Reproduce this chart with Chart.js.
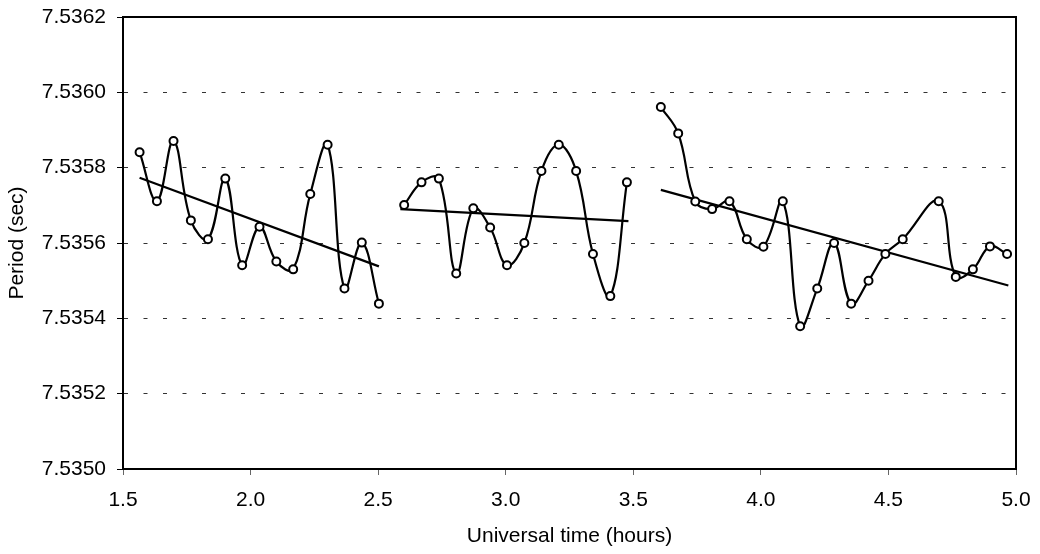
<!DOCTYPE html>
<html>
<head>
<meta charset="utf-8">
<script src="https://cdn.jsdelivr.net/npm/chart.js@4/dist/chart.umd.min.js"></script>
<style>
    html, body { margin: 0; padding: 0; background: #fff; }
    #contenedor { width: 1040px; height: 554px; }
</style>
</head>
<body>
<div id="contenedor"><canvas id="GP1"></canvas></div>
<script>
//
// DATOS (hora UT / periodo en segundos)
//
var horaSeg1 = [1.565, 1.633, 1.698, 1.766, 1.833, 1.901, 1.967, 2.035, 2.101, 2.167, 2.234, 2.302, 2.368, 2.436, 2.503];
var periodoSeg1 = [7.535841, 7.535711, 7.535871, 7.535660, 7.535610, 7.535771, 7.535541, 7.535643, 7.535551, 7.535530, 7.535730, 7.535861, 7.535479, 7.535601, 7.535439];

var horaSeg2 = [2.602, 2.670, 2.738, 2.806, 2.873, 2.939, 3.005, 3.073, 3.140, 3.208, 3.276, 3.342, 3.410, 3.475];
var periodoSeg2 = [7.535701, 7.535761, 7.535771, 7.535519, 7.535692, 7.535641, 7.535541, 7.535600, 7.535791, 7.535861, 7.535791, 7.535571, 7.535459, 7.535761];

var horaSeg3 = [3.608, 3.676, 3.743, 3.809, 3.877, 3.945, 4.010, 4.086, 4.154, 4.221, 4.287, 4.354, 4.422, 4.488, 4.556, 4.697, 4.764, 4.831, 4.898, 4.965];
var periodoSeg3 = [7.535961, 7.535891, 7.535710, 7.535690, 7.535711, 7.535610, 7.535590, 7.535711, 7.535379, 7.535479, 7.535600, 7.535439, 7.535500, 7.535571, 7.535610, 7.535711, 7.535510, 7.535530, 7.535591, 7.535571];

// lineas de tendencia (extremos)
var tendHora1 = [1.565, 2.503];
var tendPeriodo1 = [7.535773, 7.535538];
var tendHora2 = [2.587, 3.481];
var tendPeriodo2 = [7.535690, 7.535658];
var tendHora3 = [3.608, 4.970];
var tendPeriodo3 = [7.535741, 7.535487];

var ticksX = [1.5, 2.0, 2.5, 3.0, 3.5, 4.0, 4.5, 5.0];
var ticksY = [7.5350, 7.5352, 7.5354, 7.5356, 7.5358, 7.5360, 7.5362];
var lineasGuiaY = [7.5352, 7.5354, 7.5356, 7.5358, 7.5360];

FNArmarPuntos = function (horas, valores) {
    var puntos = [];
    for (var i = 0; i < horas.length; i++) {
        puntos.push({ x: horas[i], y: valores[i] });
    }
    return puntos;
}

FNSerieCurva = function (horas, valores) {
    return {
        data: FNArmarPuntos(horas, valores),
        borderColor: "#000",
        borderWidth: 2.2,
        tension: 0.4,
        pointRadius: 4,
        pointBorderWidth: 2,
        pointBackgroundColor: "#fff",
        pointBorderColor: "#000",
        fill: false
    };
}

FNSerieTendencia = function (horas, valores) {
    return {
        data: FNArmarPuntos(horas, valores),
        borderColor: "#000",
        borderWidth: 2.2,
        tension: 0,
        pointRadius: 0,
        fill: false
    };
}

// sin relleno extra por etiquetas en los extremos
FNSinPadding = function (scale) {
    scale.paddingTop = 0;
    scale.paddingBottom = 0;
    scale.paddingLeft = 0;
    scale.paddingRight = 0;
}

// marco superior y derecho del area de grafico
var marcoGrafico = {
    id: 'marcoGrafico',
    beforeDatasetsDraw: function (chart) {
        var a = chart.chartArea;
        var ctx = chart.ctx;
        ctx.save();
        ctx.strokeStyle = "#000";
        ctx.lineWidth = 2;
        ctx.beginPath();
        ctx.moveTo(a.left, a.top);
        ctx.lineTo(a.right, a.top);
        ctx.lineTo(a.right, a.bottom);
        ctx.stroke();
        ctx.restore();
    }
};

FNGraficoPeriodo = function () {
    Chart.defaults.font.family = "'Liberation Sans', Arial, sans-serif";
    Chart.defaults.color = "#000";

    new Chart(document.getElementById("GP1"), {
        type: 'line',
        data: {
            datasets: [
                FNSerieCurva(horaSeg1, periodoSeg1),
                FNSerieCurva(horaSeg2, periodoSeg2),
                FNSerieCurva(horaSeg3, periodoSeg3),
                FNSerieTendencia(tendHora1, tendPeriodo1),
                FNSerieTendencia(tendHora2, tendPeriodo2),
                FNSerieTendencia(tendHora3, tendPeriodo3)
            ]
        },
        plugins: [marcoGrafico],
        options: {
            responsive: true,
            maintainAspectRatio: false,
            animation: false,
            layout: { padding: { left: 5, top: 17, right: 24, bottom: 5 } },
            plugins: {
                legend: { display: false },
                tooltip: { enabled: false }
            },
            scales: {
                x: {
                    type: 'linear',
                    min: 1.5,
                    max: 5.0,
                    afterBuildTicks: function (scale) {
                        scale.ticks = ticksX.map(function (v) { return { value: v }; });
                    },
                    afterFit: function (scale) {
                        scale.height = 80;
                        FNSinPadding(scale);
                    },
                    grid: {
                        drawOnChartArea: false,
                        drawTicks: true,
                        tickLength: 6,
                        tickColor: "#666"
                    },
                    border: { display: true, color: "#000", width: 2 },
                    ticks: {
                        padding: 13,
                        font: { size: 21 },
                        maxRotation: 0,
                        callback: function (v) { return v.toFixed(1); }
                    },
                    title: {
                        display: true,
                        text: 'Universal time (hours)',
                        font: { size: 21 },
                        padding: 0
                    }
                },
                y: {
                    type: 'linear',
                    min: 7.5350,
                    max: 7.5362,
                    afterBuildTicks: function (scale) {
                        scale.ticks = ticksY.map(function (v) { return { value: v }; });
                    },
                    afterFit: function (scale) {
                        scale.width = 118;
                        FNSinPadding(scale);
                    },
                    grid: {
                        color: function (c) {
                            var v = c.tick ? c.tick.value : null;
                            for (var i = 0; i < lineasGuiaY.length; i++) {
                                if (v !== null && Math.abs(v - lineasGuiaY[i]) < 1e-7) return "#333";
                            }
                            return "rgba(0,0,0,0)";
                        },
                        lineWidth: 1,
                        drawTicks: true,
                        tickLength: 6,
                        tickColor: "#000",
                        tickBorderDash: []
                    },
                    border: { display: true, color: "#000", width: 2, dash: [4, 15.5] },
                    ticks: {
                        padding: 11,
                        font: { size: 21 },
                        callback: function (v) { return v.toFixed(4); }
                    },
                    title: {
                        display: true,
                        text: 'Period (sec)',
                        font: { size: 21 },
                        padding: 0
                    }
                }
            }
        }
    });
}

FNGraficoPeriodo();
</script>
</body>
</html>
